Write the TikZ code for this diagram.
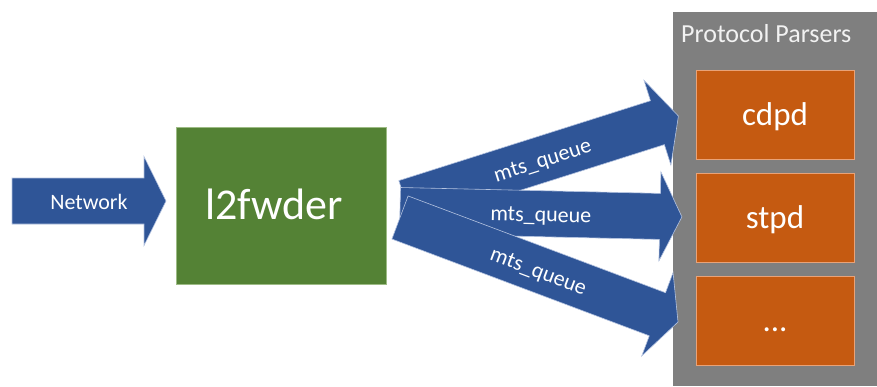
\documentclass[tikz,border=0pt]{standalone}
\usepackage{fontspec}
\setmainfont{Carlito}
\usetikzlibrary{calc}
\definecolor{arrowblue}{HTML}{2F5597}
\definecolor{arrowedge}{HTML}{B4C3E0}
\definecolor{boxgreen}{HTML}{548235}
\definecolor{greenedge}{HTML}{9DBB85}
\definecolor{parsergray}{HTML}{7F7F7F}
\definecolor{parserorange}{HTML}{C55A11}
\definecolor{orangeedge}{HTML}{E9A277}
\tikzset{
  blockarrow/.style={fill=arrowblue, draw=arrowedge, line width=0.6pt, line join=miter},
  arrowlabel/.style={text=white, font=\fontsize{22}{26}\selectfont, inner sep=0pt, text height=16pt, text depth=0pt},
  parserbox/.style={fill=parserorange, draw=orangeedge, line width=0.8pt, minimum width=158pt, minimum height=89pt, inner sep=0pt, text=white, font=\fontsize{33}{40}\selectfont, text height=21pt, text depth=0pt},
}
\newcommand{\blockarrowshape}[3]{%
  \begin{scope}[shift={(#1)}, rotate=#2]
    \filldraw[blockarrow] (0,-23) -- ({#3-22},-23) -- ({#3-22},-44.5) -- (#3,0) -- ({#3-22},44.5) -- ({#3-22},23) -- (0,23) -- cycle;
  \end{scope}}
\begin{document}
\begin{tikzpicture}[x=1pt,y=-1pt]
\useasboundingbox (0,0) rectangle (877,386);
% parser group
\fill[parsergray] (673,12) rectangle (877,386);
\node[anchor=base west, text=white!95!black, font=\fontsize{26}{31}\selectfont, inner sep=0pt] (pp) at (681,42) {Protocol Parsers};
\node[parserbox] (cdpd) at (775,114.5) {cdpd};
\node[parserbox] (stpd) at (775,218) {stpd};
\node[parserbox] (more) at (775,321) {...};
% l2fwder
\node[fill=boxgreen, draw=greenedge, line width=0.6pt, minimum width=210pt, minimum height=157pt, inner sep=0pt] (fw) at (281,205.5) {};
\node[anchor=base, text=white, font=\fontsize{44}{52}\selectfont, inner sep=0pt] (fwlabel) at (274,219.3) {l2fwder};
% arrow end points
\coordinate (t0) at (12,201);     \coordinate (h0) at (166,201);
\coordinate (t1) at (405.8,202.5); \coordinate (h1) at (678.4,116);
\coordinate (t2) at (400,210.5);   \coordinate (h2) at (681.9,216.9);
\coordinate (t3) at (400,217.5);   \coordinate (h3) at (678,322);
\blockarrowshape{t0}{0}{154}
\node[arrowlabel] (net) at ($(t0)!0.5!(h0)$) {Network};
\blockarrowshape{t1}{17.6}{286}
\blockarrowshape{t2}{-1.3}{282}
\blockarrowshape{t3}{-20.6}{297}
\node[arrowlabel, rotate=17.6] (q1) at ($(t1)!0.5!(h1)$) {mts\_queue};
\node[arrowlabel, rotate=-1.3] (q2) at ($(t2)!0.5!(h2)$) {mts\_queue};
\node[arrowlabel, rotate=-20.6] (q3) at ($(t3)!0.5!(h3)$) {mts\_queue};
\end{tikzpicture}
\end{document}
